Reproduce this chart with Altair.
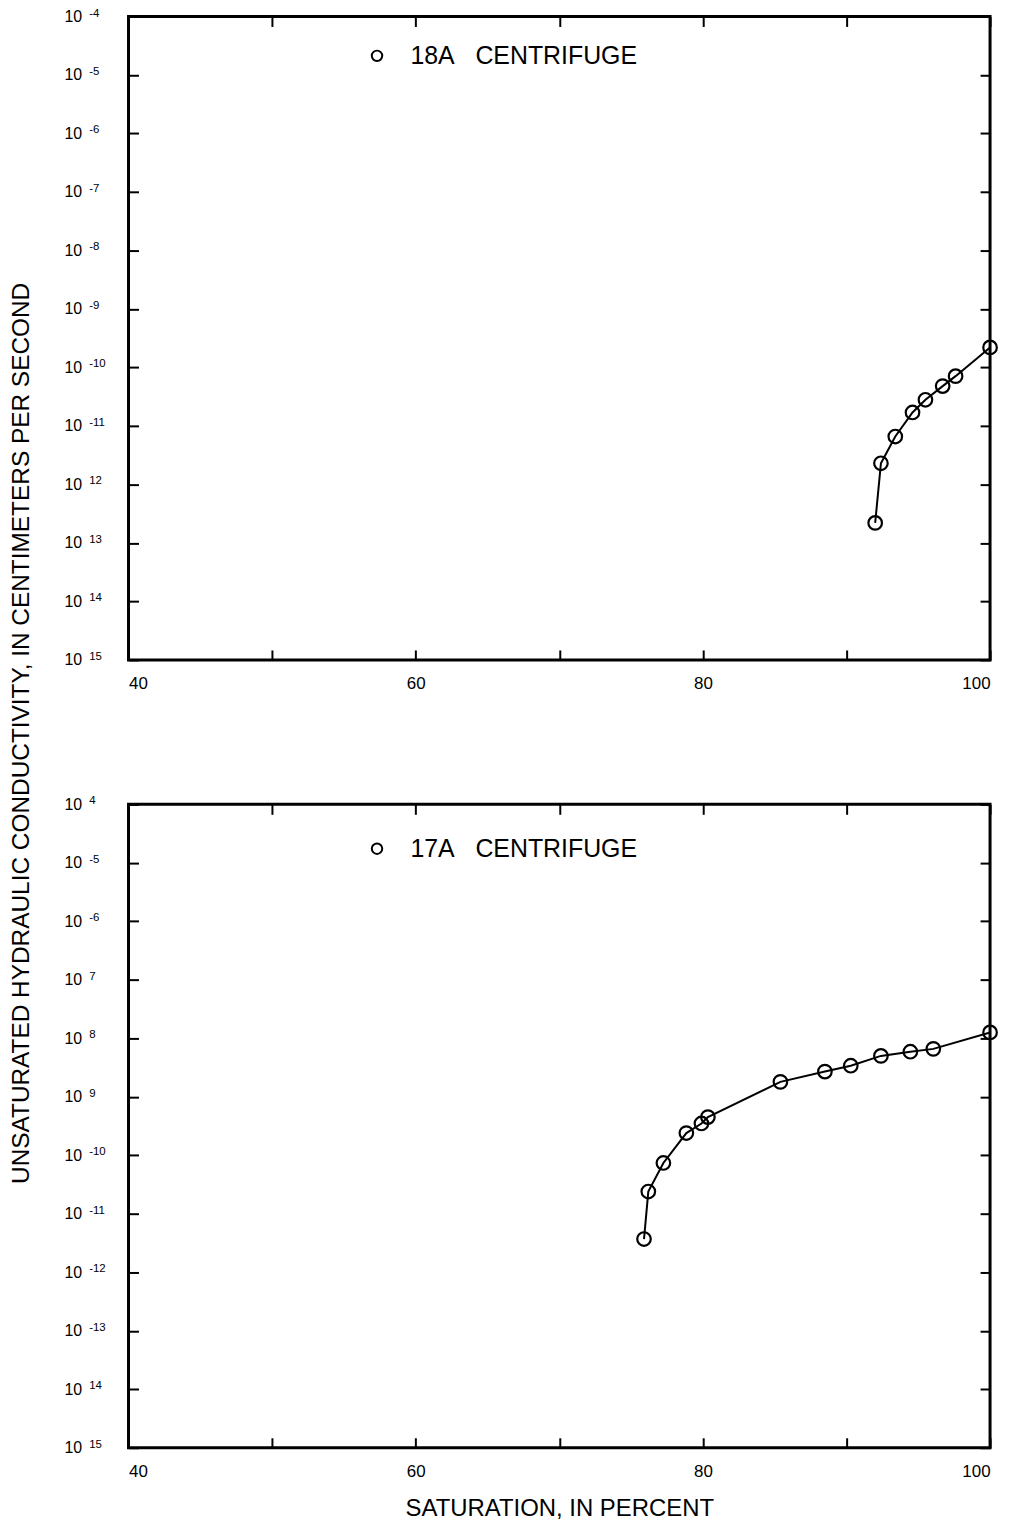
import json
import altair as alt
import pandas as pd

# ---- data ----
top_sample = "18A\u00a0\u00a0\u00a0CENTRIFUGE"
top_sat = [92.0, 92.4, 93.4, 94.6, 95.5, 96.7, 97.6, 100.0]
top_k = [2.2e-13, 2.3e-12, 6.6e-12, 1.7e-11, 2.8e-11, 4.8e-11, 7.1e-11, 2.2e-10]

bottom_sample = "17A\u00a0\u00a0\u00a0CENTRIFUGE"
bottom_sat = [75.9, 76.2, 77.25, 78.85, 79.9, 80.35, 85.4, 88.5, 90.3, 92.4, 94.45, 96.05, 100.0]
bottom_k = [3.7e-12, 2.4e-11, 7.4e-11, 2.4e-10, 3.5e-10, 4.5e-10, 1.8e-9, 2.7e-9, 3.4e-9,
            5.0e-9, 5.9e-9, 6.6e-9, 1.26e-8]

# tick-label exponents as printed (some minus signs are missing in the original print)
NB2 = "\u00a0\u00a0"
top_exponents = ["-4", "-5", "-6", "-7", "-8", "-9", "-10", "-11",
                 NB2 + "12", NB2 + "13", NB2 + "14", NB2 + "15"]
bottom_exponents = [NB2 + "4", "-5", "-6", NB2 + "7", NB2 + "8", NB2 + "9",
                    "-10", "-11", "-12", "-13", NB2 + "14", NB2 + "15"]
y_tick_values = [1e-4, 1e-5, 1e-6, 1e-7, 1e-8, 1e-9, 1e-10, 1e-11, 1e-12, 1e-13, 1e-14, 1e-15]
x_tick_values = [40, 50, 60, 70, 80, 90, 100]

y_title = "UNSATURATED HYDRAULIC CONDUCTIVITY, IN CENTIMETERS PER SECOND"
x_title = "SATURATION, IN PERCENT"

FONT = "Liberation Sans"
W, H = 865, 646


def panel(sat, k, sample, exponents, xtitle, legend_y):
    df = pd.DataFrame({"sat": sat, "k": k, "sample": [sample] * len(sat)})
    base = alt.Chart(df)
    xs = alt.Scale(domain=[40, 100], nice=False, zero=False)
    ys = alt.Scale(type="log", domain=[1e-15, 1e-4], nice=False)
    exp_expr = json.dumps(exponents, ensure_ascii=False) + "[round(-log(datum.value)/LN10) - 4]"
    ticks = dict(domain=False, grid=False, tickSize=10, tickWidth=2, tickColor="black", offset=-10)
    noticks = dict(domain=False, grid=False, ticks=False, offset=-10)

    # line: carries top and right tick-only axes
    line = base.mark_line(color="black", strokeWidth=2).encode(
        x=alt.X("sat:Q", scale=xs,
                axis=alt.Axis(orient="top", values=x_tick_values, labels=False, title=None, **ticks)),
        y=alt.Y("k:Q", scale=ys,
                axis=alt.Axis(orient="right", values=y_tick_values, labels=False, title=None, **ticks)),
    )

    xaxis_kwargs = dict(orient="bottom", values=x_tick_values,
                        labelExpr="datum.value % 20 == 0 ? datum.label : ''",
                        labelFont=FONT, labelFontSize=17, labelColor="black", labelPadding=16,
                        **ticks)
    if xtitle:
        xaxis_kwargs.update(title=xtitle, titleFont=FONT, titleFontSize=24, titleFontWeight="normal",
                            titleColor="black", titlePadding=17)
    else:
        xaxis_kwargs.update(title=None)

    # points: bottom axis, left axis with the exponents, legend
    pts = base.mark_point(shape="circle", filled=False, size=185, strokeWidth=2.2, opacity=1).encode(
        x=alt.X("sat:Q", scale=xs, axis=alt.Axis(**xaxis_kwargs)),
        y=alt.Y("k:Q", scale=ys,
                axis=alt.Axis(orient="left", values=y_tick_values, labelExpr=exp_expr,
                              labelAlign="left", labelFont=FONT, labelFontSize=11.5,
                              labelColor="black", labelPadding=40, labelOffset=-3.5,
                              title=None, **ticks)),
        color=alt.Color("sample:N", scale=alt.Scale(range=["black"]),
                        legend=alt.Legend(title=None, orient="none", legendX=237, legendY=legend_y,
                                          labelFont=FONT, labelFontSize=25, labelColor="black",
                                          labelLimit=0, symbolType="circle", symbolSize=110,
                                          symbolStrokeWidth=2, labelOffset=21, padding=0)),
    )

    # base "10" of the tick labels on a second left axis
    tens = base.mark_point(opacity=0).encode(
        x=alt.X("sat:Q", scale=xs, axis=None),
        y=alt.Y("k:Q", scale=ys,
                axis=alt.Axis(orient="left", values=y_tick_values, labelExpr="'10'",
                              labelFont=FONT, labelFontSize=16, labelColor="black",
                              labelPadding=57, title=None, **noticks)),
    )
    return alt.layer(line, pts, tens).resolve_scale(x="independent", y="independent").properties(
        width=W, height=H)


top = panel(top_sat, top_k, top_sample, top_exponents, None, 27)
bottom = panel(bottom_sat, bottom_k, bottom_sample, bottom_exponents, x_title, 32)

chart = alt.vconcat(top, bottom, spacing=100).resolve_scale(
    x="independent", y="independent", color="independent"
).properties(
    padding={"left": 1, "top": -5.5, "right": 0, "bottom": -3},
    title=alt.TitleParams(text=y_title, orient="left", anchor="middle", font=FONT, fontSize=24.5,
                          fontWeight="normal", color="black", offset=28, dx=30.5)
).configure_view(stroke="black", strokeWidth=3)

chart.save("out.html", embed_options={"renderer": "svg", "actions": False})
